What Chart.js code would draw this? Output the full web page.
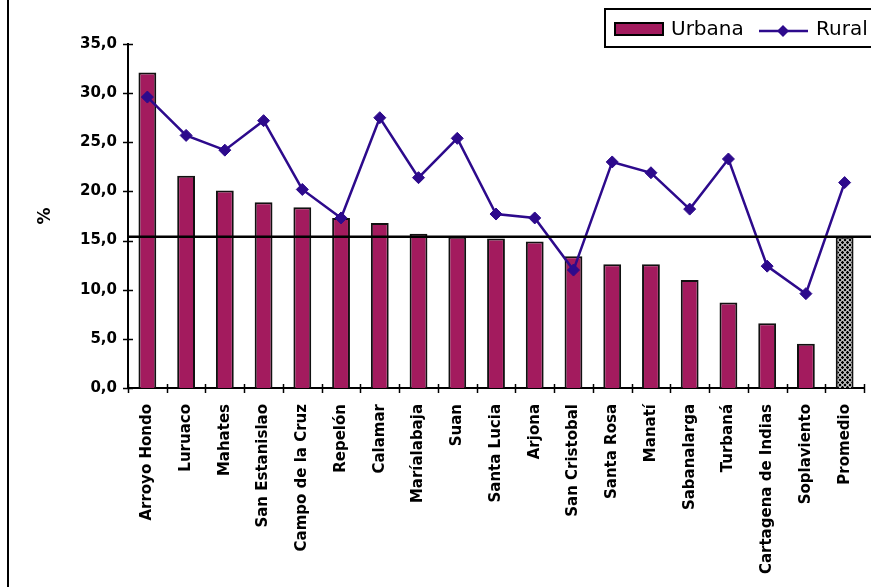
<!DOCTYPE html>
<html>
<head>
<meta charset="utf-8">
<script src="https://cdn.jsdelivr.net/npm/chart.js@4"></script>
<style>
  html, body { margin: 0; padding: 0; background: #fff; }
  #wrap { width: 871px; height: 587px; }
</style>
</head>
<body>
<div id="wrap"><canvas id="myChart" width="871" height="587"></canvas></div>
<script>
const categories = [
  "Arroyo Hondo", "Luruaco", "Mahates", "San Estanislao", "Campo de la Cruz",
  "Repelón", "Calamar", "Maríalabaja", "Suan", "Santa Lucia", "Arjona",
  "San Cristobal", "Santa Rosa", "Manatí", "Sabanalarga", "Turbaná",
  "Cartagena de Indias", "Soplaviento", "Promedio",
];
const urbana = [32.1, 21.6, 20.1, 18.9, 18.4, 17.3, 16.8, 15.7, 15.4, 15.2, 14.9, 13.4, 12.6, 12.6, 11.0, 8.7, 6.6, 4.5, 15.4];
const rural = [29.6, 25.7, 24.2, 27.2, 20.2, 17.3, 27.5, 21.4, 25.4, 17.7, 17.3, 12.0, 23.0, 21.9, 18.2, 23.3, 12.4, 9.6, 20.9];
const promedioUrbana = 15.4;
const yTicks = [0, 5, 10, 15, 20, 25, 30, 35];

const barColor = "#a31b5e";
const lineColor = "#2d0a8c";

// dotted pattern for the "Promedio" bar
const pc = document.createElement("canvas");
pc.width = 5;
pc.height = 5;
const pctx = pc.getContext("2d");
pctx.fillStyle = "#000";
pctx.fillRect(0, 0, 5, 5);
pctx.strokeStyle = "#fff";
pctx.lineWidth = 1;
pctx.beginPath();
pctx.arc(2.5, 2.5, 2, 0, Math.PI * 2);
pctx.stroke();
const hatch = document.getElementById("myChart").getContext("2d").createPattern(pc, "repeat");

const fmt = (v) => v.toFixed(1).replace(".", ",");

const extras = {
  id: "extras",
  afterDatasetsDraw(chart) {
    const ctx = chart.ctx;
    const ys = chart.scales.y;
    const xs = chart.scales.x;
    const y = ys.getPixelForValue(promedioUrbana);
    ctx.save();
    ctx.strokeStyle = "#000";
    ctx.lineWidth = 2.5;
    ctx.beginPath();
    ctx.moveTo(xs.left, y);
    ctx.lineTo(chart.width, y);
    ctx.stroke();
    ctx.restore();
  },
  afterDraw(chart) {
    const ctx = chart.ctx;
    const ys = chart.scales.y;
    const xs = chart.scales.x;
    ctx.save();
    ctx.strokeStyle = "#000";
    ctx.lineWidth = 1.5;
    // cross ticks on both axes
    yTicks.forEach((t) => {
      const p = Math.round(ys.getPixelForValue(t)) + 0.5;
      ctx.beginPath();
      ctx.moveTo(xs.left - 5, p);
      ctx.lineTo(xs.left + 5, p);
      ctx.stroke();
    });
    const step = (xs.right - xs.left) / categories.length;
    for (let i = 0; i <= categories.length; i++) {
      const p = Math.round(xs.left + step * i) + 0.5;
      ctx.beginPath();
      ctx.moveTo(p, ys.bottom - 4);
      ctx.lineTo(p, ys.bottom + 5);
      ctx.stroke();
    }
    // frame left edge
    ctx.lineWidth = 2;
    ctx.beginPath();
    ctx.moveTo(8, 0);
    ctx.lineTo(8, chart.height);
    ctx.stroke();

    // legend box
    ctx.fillStyle = "#fff";
    ctx.fillRect(605, 9, 270, 38);
    ctx.lineWidth = 2;
    ctx.strokeRect(605, 9, 275, 38);
    ctx.fillStyle = barColor;
    ctx.fillRect(615, 23, 48, 12);
    ctx.lineWidth = 2;
    ctx.strokeStyle = "#000";
    ctx.strokeRect(615, 23, 48, 12);
    ctx.fillStyle = "#000";
    ctx.font = "20px 'DejaVu Sans'";
    ctx.textBaseline = "middle";
    ctx.fillText(chart.data.datasets[0].label, 671, 30);
    ctx.strokeStyle = lineColor;
    ctx.lineWidth = 2.5;
    ctx.beginPath();
    ctx.moveTo(759, 31);
    ctx.lineTo(808, 31);
    ctx.stroke();
    ctx.fillStyle = lineColor;
    ctx.beginPath();
    ctx.moveTo(783, 25);
    ctx.lineTo(789, 31);
    ctx.lineTo(783, 37);
    ctx.lineTo(777, 31);
    ctx.closePath();
    ctx.fill();
    ctx.fillStyle = "#000";
    ctx.fillText(chart.data.datasets[1].label, 816, 30);
    ctx.restore();
  },
};

const config = {
  data: {
    labels: categories,
    datasets: [
      {
        type: "bar",
        label: "Urbana",
        data: urbana,
        order: 1,
        backgroundColor: (c) => (c.dataIndex === categories.length - 1 ? hatch : barColor),
        borderColor: "#111",
        borderWidth: 2,
        categoryPercentage: 1,
        barPercentage: 0.46,
      },
      {
        type: "line",
        label: "Rural",
        data: rural,
        order: 0,
        borderColor: lineColor,
        backgroundColor: lineColor,
        borderWidth: 2.5,
        pointStyle: "rectRot",
        pointRadius: 6,
        pointBorderWidth: 1,
        tension: 0,
      },
    ],
  },
  plugins: [extras],
  options: {
    responsive: false,
    animation: false,
    layout: { padding: { top: 44, right: 1, left: 0, bottom: 0 } },
    plugins: {
      legend: { display: false },
      tooltip: { enabled: false },
    },
    scales: {
      x: {
        grid: { display: false, drawTicks: false },
        border: { display: true, color: "#000", width: 2 },
        ticks: {
          autoSkip: false,
          maxRotation: 90,
          minRotation: 90,
          padding: 16,
          color: "#000",
          font: { family: "DejaVu Sans", weight: "bold", size: 15 },
        },
        afterFit: (s) => { s.height = 199; s.paddingRight = 0; },
      },
      y: {
        min: 0,
        max: 35,
        grid: { display: false, drawTicks: false },
        border: { display: true, color: "#000", width: 2 },
        afterBuildTicks: (s) => { s.ticks = yTicks.map((v) => ({ value: v })); },
        ticks: {
          padding: 11,
          color: "#000",
          font: { family: "DejaVu Sans", weight: "bold", size: 15 },
          callback: (v) => fmt(v),
        },
        title: {
          display: true,
          text: "%",
          color: "#000",
          padding: { top: 35, bottom: 0 },
          font: { family: "DejaVu Sans", weight: "bold", size: 17 },
        },
        afterFit: (s) => { s.width = 128; },
      },
    },
  },
};

const myChart = new Chart(document.getElementById("myChart").getContext("2d"), config);
</script>
</body>
</html>
